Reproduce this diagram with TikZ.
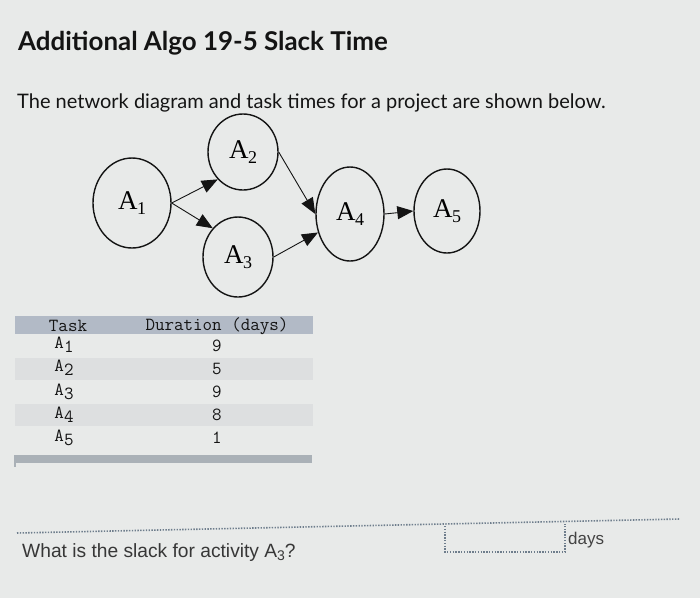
\documentclass[tikz,border=0pt]{standalone}
\usepackage{fontspec}
\setmainfont{Liberation Serif}
\newfontfamily\titlefont{Lato}
\newfontfamily\qfont{Liberation Sans}
\usetikzlibrary{shapes.geometric,arrows.meta}
\definecolor{bgc}{RGB}{232,234,233}
\definecolor{bandc}{RGB}{221,223,224}
\definecolor{headc}{RGB}{178,186,198}
\definecolor{barc}{RGB}{170,177,183}
\definecolor{dotc}{RGB}{110,125,140}
\definecolor{ink}{RGB}{20,20,20}
\tikzset{
  act/.style={ellipse, draw=ink, line width=1.4pt, inner sep=0pt, font=\fontsize{27}{27}\selectfont},
  link/.style={draw=ink, line width=0.9pt, -{Triangle[length=16pt,width=13pt]}},
  tabtxt/.style={font=\ttfamily\fontsize{18.5}{18.5}\selectfont, text=ink, inner sep=0pt},
  dotline/.style={draw=dotc, dash pattern=on 1.4pt off 1.4pt, line width=1.6pt},
}
\newcommand{\actlab}[1]{A\kern-0.5pt\raisebox{-5pt}{\fontsize{18}{18}\selectfont #1}}
\newcommand{\tablab}[1]{A\raisebox{-4pt}{#1}}
\begin{document}
\begin{tikzpicture}[x=1pt,y=-1pt]
\useasboundingbox (0,0) rectangle (700,598);
\fill[bgc] (0,0) rectangle (700,598);

% title and intro
\node[anchor=base west, inner sep=0pt, text=ink] (title) at (18,50)
  {\titlefont\bfseries\fontsize{25.9}{25.9}\selectfont Additional Algo 19-5 Slack Time};
\node[anchor=base west, inner sep=0pt, text=ink] (intro) at (17,108)
  {\titlefont\fontsize{20}{20}\selectfont The network diagram and task times for a project are shown below.};

% network
\node[act, minimum width=78pt, minimum height=90pt] (a1) at (132,203) {\actlab{1}};
\node[act, minimum width=70pt, minimum height=76pt] (a2) at (243,152) {\actlab{2}};
\node[act, minimum width=70pt, minimum height=80pt] (a3) at (238,257) {\actlab{3}};
\node[act, minimum width=68pt, minimum height=94pt] (a4) at (350,214) {\actlab{4}};
\node[act, minimum width=66pt, minimum height=84pt] (a5) at (447,211) {\actlab{5}};
\draw[link] (a1.east) -- (a2.south west);
\draw[link] (a1.east) -- (a3.north west);
\draw[link] (a2.east) -- (a4.west);
\draw[link] (a3.east) -- (a4.210);
\draw[link] (a4.east) -- (a5.west);

% table
\fill[headc] (15,316) rectangle (313,334);
\fill[bandc] (15,358) rectangle (313,380);
\fill[bandc] (15,404) rectangle (313,426);
\fill[barc] (14,455) rectangle (312,463);
\fill[barc] (14,455) rectangle (16,467);
\node[tabtxt] (th1) at (68,326) {Task};
\node[tabtxt] (th2) at (217,326) {Duration (days)};
\node[tabtxt] (t1) at (64,345) {\tablab{1}};
\node[tabtxt] (t2) at (64,368) {\tablab{2}};
\node[tabtxt] (t3) at (64,392) {\tablab{3}};
\node[tabtxt] (t4) at (64,415) {\tablab{4}};
\node[tabtxt] (t5) at (64,438) {\tablab{5}};
\node[tabtxt] (d1) at (217,346) {9};
\node[tabtxt] (d2) at (217,369) {5};
\node[tabtxt] (d3) at (217,392) {9};
\node[tabtxt] (d4) at (217,415) {8};
\node[tabtxt] (d5) at (217,438) {1};

% question
\coordinate (ql) at (17,533);
\coordinate (qr) at (680,519);
\draw[dotline] (ql) -- (qr);
\draw[dotline] (445,526) -- (445,552) -- (565,552) -- (565,524);
\node[anchor=base west, inner sep=0pt, text=ink!85] (q) at (22,557)
  {\qfont\fontsize{19.2}{19.2}\selectfont What is the slack for activity A\raisebox{-3pt}{\fontsize{14}{14}\selectfont 3}?};
\node[anchor=base west, inner sep=0pt, text=ink!80] (days) at (568,544)
  {\qfont\fontsize{17}{17}\selectfont days};
\end{tikzpicture}
\end{document}
